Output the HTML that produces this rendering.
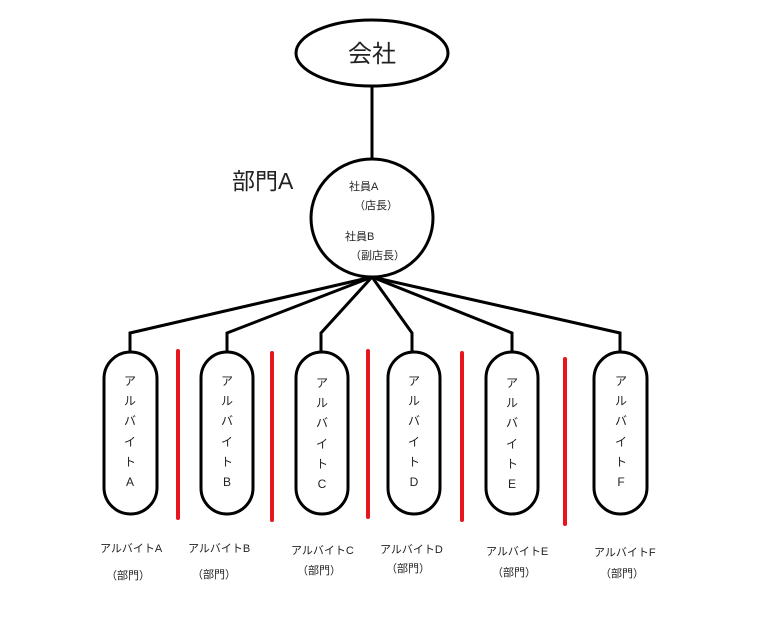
<!DOCTYPE html>
<html><head><meta charset="utf-8"><style>
body{margin:0;background:#fff;}
svg text{font-family:"Liberation Sans","Noto Sans CJK JP",sans-serif;fill:#222;}
</style></head><body>
<svg width="768" height="625" viewBox="0 0 768 625" xmlns="http://www.w3.org/2000/svg">
<g fill="none" stroke="#000" stroke-width="3">
<ellipse cx="372" cy="53" rx="76" ry="33"/>
<line x1="372" y1="86" x2="372" y2="160"/>
<ellipse cx="372" cy="218" rx="61" ry="59"/>
<polyline points="372,277 130,333 130,352"/>
<polyline points="372,277 227,333 227,352"/>
<polyline points="372,277 321,333 321,352"/>
<polyline points="372,277 412,333 412,352"/>
<polyline points="372,277 512,333 512,352"/>
<polyline points="372,277 620,333 620,352"/>
<rect x="104" y="352" width="53" height="162" rx="26.5"/>
<rect x="201" y="352" width="52" height="162" rx="26"/>
<rect x="296" y="352" width="52" height="162" rx="26"/>
<rect x="388" y="352" width="52" height="162" rx="26"/>
<rect x="486" y="352" width="52" height="162" rx="26"/>
<rect x="594" y="352" width="53" height="162" rx="26.5"/>
</g>
<g stroke="#e8141e" stroke-width="4" stroke-linecap="round">
<line x1="178" y1="351" x2="178" y2="518"/>
<line x1="272" y1="353" x2="272" y2="520"/>
<line x1="368" y1="351" x2="368" y2="517"/>
<line x1="462" y1="353" x2="462" y2="520"/>
<line x1="565" y1="359" x2="565" y2="524"/>
</g>
<text x="372" y="62" font-size="24" text-anchor="middle">会社</text>
<text x="232" y="189" font-size="23">部門A</text>
<g font-size="11">
<text x="349" y="190">社員A</text>
<text x="354" y="209">（店長）</text>
<text x="345" y="240">社員B</text>
<text x="350" y="259">（副店長）</text>
</g>
<g font-size="12" text-anchor="middle">
<g transform="translate(130,0)"><text y="385">ア</text><text y="405">ル</text><text y="425">バ</text><text y="446">イ</text><text y="466">ト</text><text y="486">A</text></g>
<g transform="translate(227,0)"><text y="385">ア</text><text y="405">ル</text><text y="425">バ</text><text y="446">イ</text><text y="466">ト</text><text y="486">B</text></g>
<g transform="translate(322,0)"><text y="387">ア</text><text y="407">ル</text><text y="427">バ</text><text y="448">イ</text><text y="468">ト</text><text y="488">C</text></g>
<g transform="translate(414,0)"><text y="385">ア</text><text y="405">ル</text><text y="425">バ</text><text y="446">イ</text><text y="466">ト</text><text y="486">D</text></g>
<g transform="translate(512,0)"><text y="387">ア</text><text y="407">ル</text><text y="427">バ</text><text y="448">イ</text><text y="468">ト</text><text y="488">E</text></g>
<g transform="translate(621,0)"><text y="385">ア</text><text y="405">ル</text><text y="425">バ</text><text y="446">イ</text><text y="466">ト</text><text y="486">F</text></g>
</g>
<g font-size="11">
<text x="100" y="552">アルバイトA</text><text x="106" y="579">（部門）</text>
<text x="188" y="552">アルバイトB</text><text x="192" y="578">（部門）</text>
<text x="291" y="554">アルバイトC</text><text x="297" y="574">（部門）</text>
<text x="380" y="553">アルバイトD</text><text x="386" y="572">（部門）</text>
<text x="486" y="555">アルバイトE</text><text x="492" y="576">（部門）</text>
<text x="594" y="556">アルバイトF</text><text x="600" y="577">（部門）</text>
</g>
</svg>
</body></html>
